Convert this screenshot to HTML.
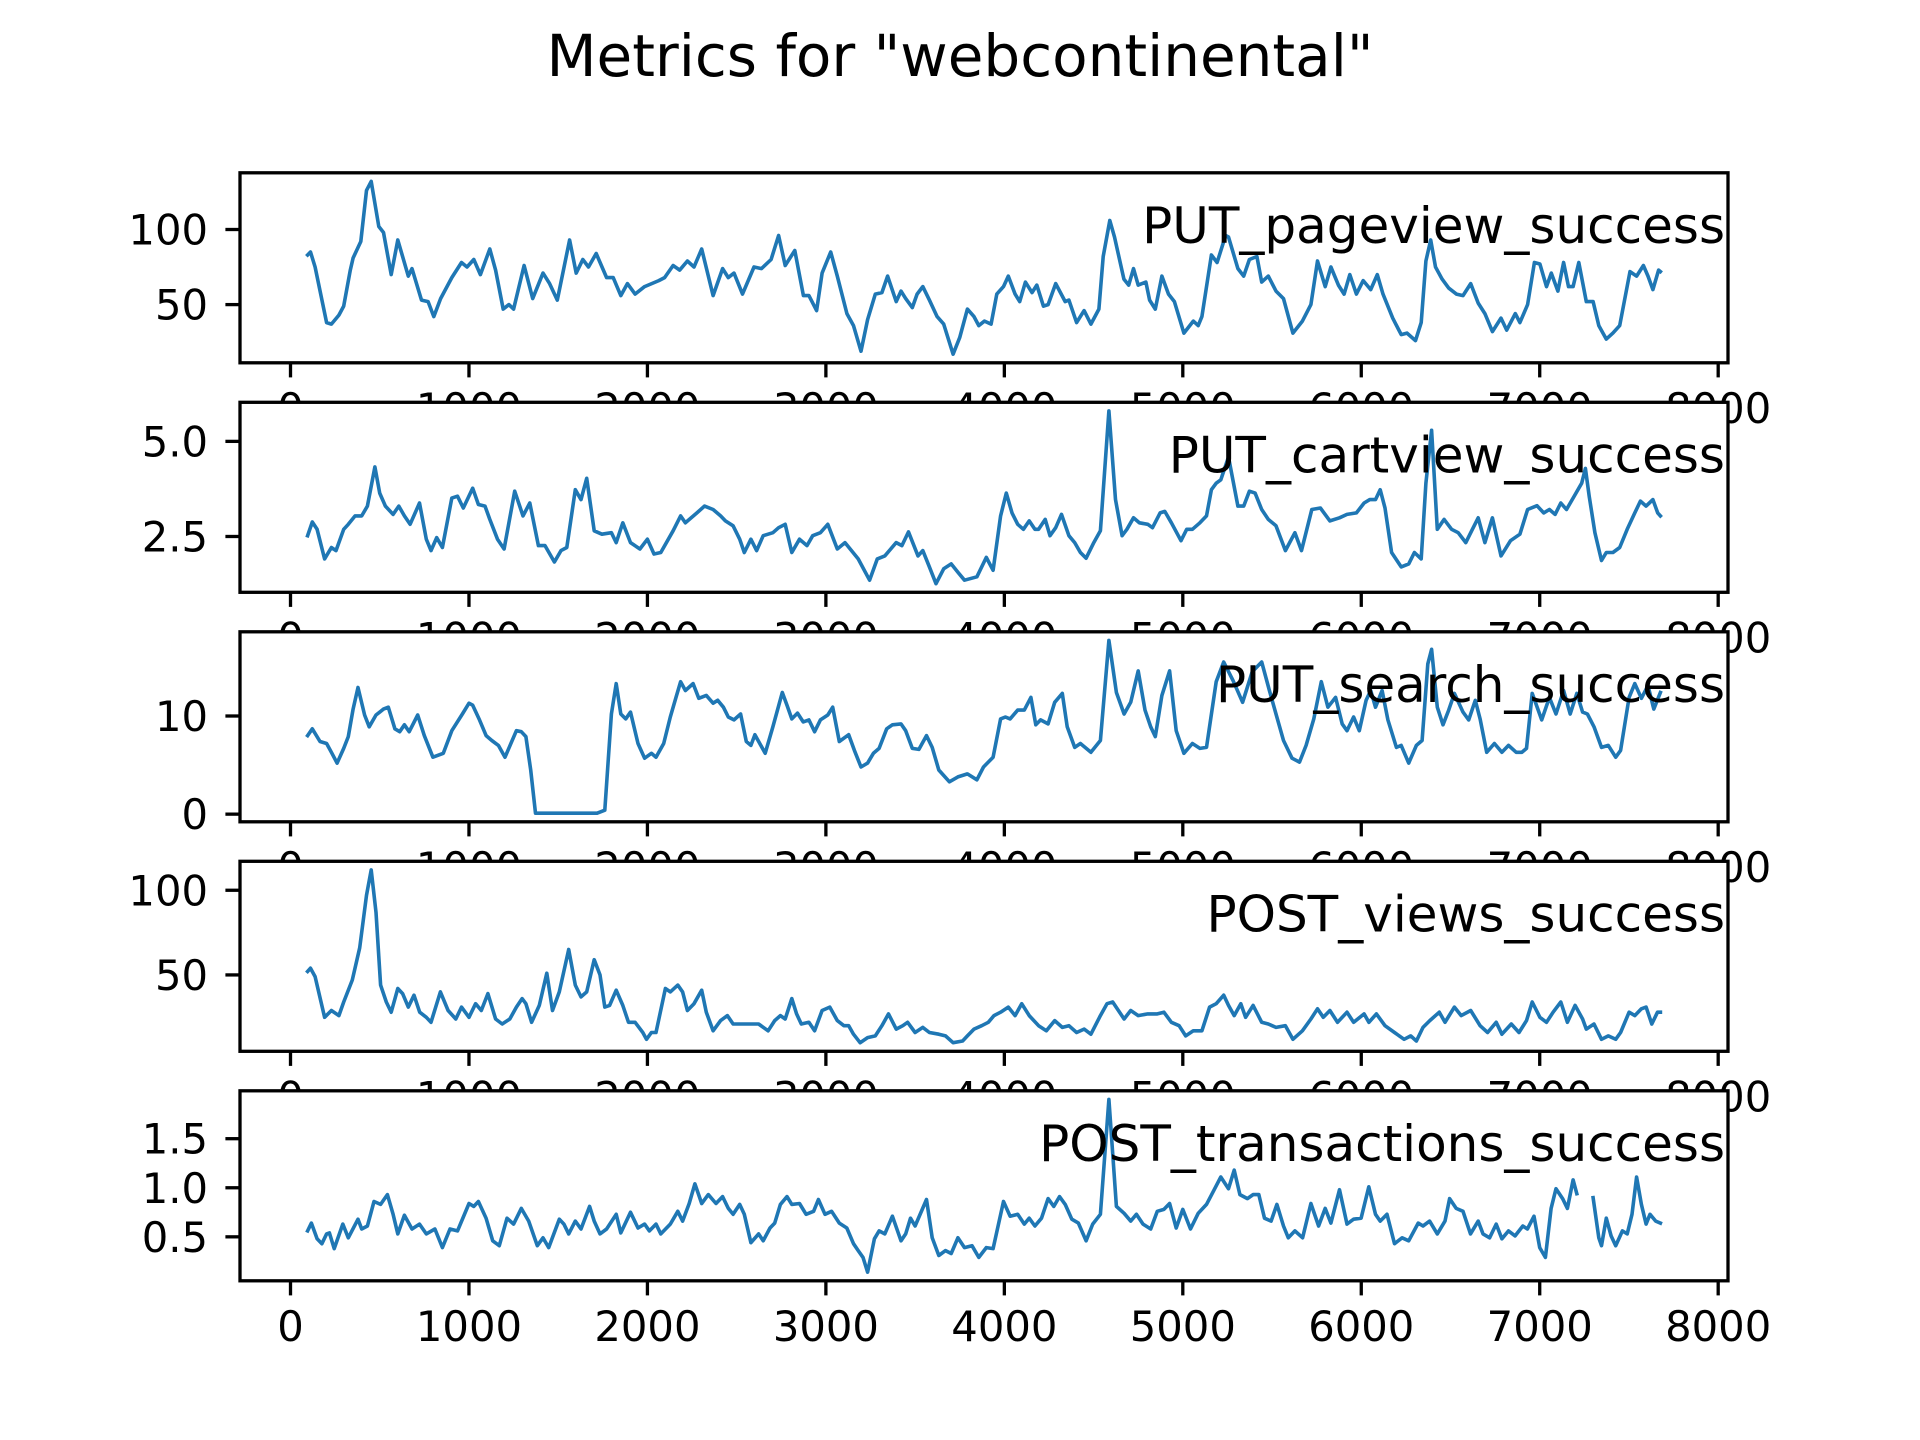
<!DOCTYPE html>
<html>
<head>
<meta charset="utf-8">
<style>
  html, body { margin: 0; padding: 0; background: #ffffff; }
  svg { display: block; }
  text { font-family: "DejaVu Sans", "Liberation Sans", sans-serif; fill: #000; }
</style>
</head>
<body>
<svg id="chart" width="1920" height="1440" viewBox="0 0 1920 1440" xmlns="http://www.w3.org/2000/svg">
  <rect x="0" y="0" width="1920" height="1440" fill="#ffffff"></rect>
  <text x="960" y="76" text-anchor="middle" font-size="58">Metrics for "webcontinental"</text>
</svg>
<script>
// ---------- data ----------
const seriesNames = ["PUT_pageview_success", "PUT_cartview_success", "PUT_search_success", "POST_views_success", "POST_transactions_success"];
const xTickValues = [0, 1000, 2000, 3000, 4000, 5000, 6000, 7000, 8000];
const yTicks1 = [50, 100];
const yTicks2 = [2.5, 5.0];
const yTicks3 = [0, 10];
const yTicks4 = [50, 100];
const yTicks5 = [0.5, 1.0, 1.5];
const yTickLabels1 = ["50", "100"];
const yTickLabels2 = ["2.5", "5.0"];
const yTickLabels3 = ["0", "10"];
const yTickLabels4 = ["50", "100"];
const yTickLabels5 = ["0.5", "1.0", "1.5"];

const x1 = [96,112,138,202,229,271,298,335,351,394,426,452,495,521,564,601,628,660,681,734,771,803,841,904,958,989,1027,1064,1117,1149,1192,1224,1250,1309,1357,1415,1452,1495,1564,1601,1638,1670,1713,1771,1808,1851,1888,1931,1984,2064,2096,2144,2181,2224,2261,2304,2368,2421,2453,2485,2533,2597,2639,2693,2735,2772,2826,2874,2905,2948,2979,3027,3064,3118,3155,3197,3234,3277,3314,3346,3394,3421,3447,3484,3511,3543,3580,3623,3660,3713,3750,3793,3830,3857,3889,3926,3958,3995,4022,4060,4086,4118,4155,4182,4219,4245,4288,4341,4362,4405,4447,4485,4530,4554,4591,4617,4670,4697,4724,4750,4793,4814,4846,4883,4920,4953,5006,5059,5086,5107,5160,5192,5240,5256,5309,5341,5373,5415,5442,5479,5522,5564,5617,5670,5718,5755,5798,5830,5872,5904,5936,5973,6011,6053,6090,6122,6176,6224,6256,6304,6336,6362,6389,6416,6453,6490,6533,6570,6613,6655,6693,6735,6783,6815,6863,6889,6932,6970,7001,7038,7065,7102,7134,7161,7187,7219,7261,7299,7331,7373,7410,7448,7506,7543,7581,7607,7634,7666,7676];
const v1 = [83,85,75,38,37,43,49,73,81,92,126,132,102,98,70,93,82,69,74,53,52,42,54,68,78,75,80,70,87,73,47,50,47,76,54,71,64,53,93,71,80,75,84,68,68,56,64,57,62,66,68,76,73,79,75,87,56,74,68,71,57,75,74,80,96,76,86,56,56,46,71,85,69,44,36,19,40,57,58,69,52,59,54,48,57,62,53,42,37,17,28,47,42,36,39,37,57,62,69,57,52,65,58,63,49,50,64,52,53,38,46,37,47,82,106,95,67,63,74,63,65,53,47,69,57,52,31,39,36,42,83,78,96,95,74,69,80,82,65,69,59,54,31,39,50,79,62,75,63,57,70,57,66,60,70,57,41,30,31,26,38,79,93,75,67,61,57,56,64,51,44,32,41,33,44,38,50,78,77,62,71,59,78,62,62,78,52,52,36,27,31,36,72,69,76,69,60,73,72];

const x2 = [96,122,149,191,229,255,298,324,362,399,431,473,500,532,575,607,638,670,723,761,787,819,851,904,936,968,1021,1053,1090,1117,1160,1197,1256,1303,1341,1389,1426,1479,1516,1548,1596,1628,1660,1702,1745,1798,1825,1862,1905,1958,2000,2037,2075,2144,2186,2213,2277,2320,2368,2410,2437,2480,2517,2543,2580,2612,2649,2703,2735,2772,2809,2852,2894,2926,2969,3011,3064,3107,3181,3245,3288,3330,3394,3426,3463,3516,3543,3580,3617,3660,3702,3740,3777,3846,3899,3937,3979,4011,4043,4075,4107,4139,4171,4192,4229,4256,4288,4320,4362,4394,4426,4458,4501,4538,4586,4623,4660,4687,4724,4756,4804,4830,4873,4899,4936,4990,5022,5054,5096,5133,5160,5187,5213,5256,5309,5341,5373,5405,5442,5479,5522,5575,5628,5665,5723,5771,5824,5878,5920,5973,6016,6048,6080,6106,6133,6170,6224,6266,6298,6336,6362,6394,6426,6464,6506,6543,6586,6623,6655,6693,6735,6783,6836,6889,6932,6985,7022,7054,7086,7118,7150,7198,7235,7256,7277,7309,7346,7373,7410,7448,7490,7533,7564,7596,7634,7661,7676];
const v2 = [2.52,2.88,2.69,1.91,2.21,2.13,2.69,2.82,3.04,3.04,3.30,4.33,3.64,3.30,3.08,3.30,3.04,2.82,3.38,2.43,2.13,2.47,2.21,3.51,3.56,3.25,3.77,3.34,3.30,2.95,2.43,2.17,3.69,3.04,3.38,2.26,2.26,1.83,2.13,2.21,3.73,3.47,4.03,2.65,2.56,2.60,2.34,2.86,2.34,2.17,2.43,2.04,2.08,2.65,3.04,2.86,3.12,3.30,3.21,3.04,2.91,2.78,2.43,2.08,2.43,2.13,2.52,2.60,2.73,2.82,2.08,2.43,2.26,2.52,2.60,2.82,2.17,2.34,1.91,1.35,1.91,1.99,2.34,2.26,2.62,1.99,2.13,1.70,1.26,1.65,1.78,1.56,1.35,1.44,1.95,1.61,3.04,3.64,3.12,2.82,2.69,2.91,2.69,2.69,2.95,2.52,2.73,3.08,2.52,2.34,2.08,1.93,2.34,2.65,5.80,3.47,2.52,2.69,2.99,2.86,2.82,2.73,3.12,3.16,2.86,2.39,2.69,2.69,2.86,3.04,3.73,3.90,3.99,4.59,3.30,3.30,3.69,3.64,3.21,2.95,2.78,2.13,2.60,2.13,3.21,3.25,2.91,2.99,3.08,3.12,3.38,3.47,3.47,3.73,3.25,2.08,1.70,1.78,2.08,1.91,3.90,5.29,2.69,2.95,2.69,2.60,2.34,2.69,2.99,2.34,2.99,1.99,2.39,2.56,3.21,3.31,3.12,3.21,3.08,3.38,3.21,3.60,3.90,4.29,3.56,2.60,1.87,2.08,2.08,2.21,2.69,3.12,3.43,3.30,3.47,3.12,3.04];

const x3 = [96,122,165,202,229,261,298,324,351,378,415,441,479,521,548,585,612,638,665,713,750,798,856,904,963,1000,1021,1059,1096,1128,1165,1202,1266,1293,1319,1346,1373,1426,1718,1761,1798,1825,1851,1878,1905,1947,1984,2022,2048,2091,2128,2160,2186,2213,2256,2288,2330,2368,2394,2426,2453,2485,2522,2554,2580,2602,2660,2703,2756,2782,2809,2841,2873,2905,2937,2969,3011,3038,3075,3128,3160,3197,3234,3266,3298,3341,3373,3421,3447,3484,3521,3564,3596,3633,3692,3740,3793,3846,3883,3937,3979,4006,4032,4075,4112,4149,4176,4203,4245,4282,4325,4352,4394,4426,4485,4538,4586,4628,4671,4708,4750,4788,4820,4846,4883,4926,4963,5006,5054,5096,5133,5187,5229,5282,5335,5389,5442,5485,5522,5564,5612,5654,5691,5734,5776,5813,5856,5893,5920,5957,5989,6027,6053,6080,6117,6149,6197,6224,6266,6309,6341,6373,6394,6426,6458,6490,6522,6570,6602,6639,6666,6703,6746,6788,6825,6868,6900,6926,6958,7011,7054,7091,7134,7171,7208,7240,7267,7304,7346,7384,7426,7453,7501,7533,7570,7607,7639,7676];
const v3 = [8.0,8.7,7.4,7.2,6.3,5.2,6.7,7.9,10.7,12.9,10.1,8.9,10.1,10.7,10.9,8.7,8.4,9.1,8.4,10.1,8.0,5.8,6.2,8.5,10.2,11.3,11.1,9.6,8.0,7.5,7.0,5.8,8.5,8.4,7.9,4.5,0.1,0.1,0.1,0.4,10.2,13.3,10.2,9.7,10.4,7.2,5.7,6.2,5.8,7.2,9.9,11.9,13.5,12.6,13.3,11.8,12.1,11.3,11.6,10.9,9.9,9.6,10.2,7.4,7.0,8.1,6.2,8.9,12.4,11.1,9.7,10.3,9.4,9.6,8.4,9.6,10.1,10.9,7.4,8.1,6.5,4.8,5.2,6.2,6.7,8.7,9.1,9.2,8.5,6.7,6.6,8.0,6.8,4.5,3.3,3.8,4.1,3.5,4.8,5.8,9.7,9.9,9.7,10.6,10.6,11.9,9.1,9.6,9.2,11.4,12.3,8.9,6.8,7.2,6.3,7.5,17.7,12.4,10.2,11.4,14.6,10.6,8.9,7.9,12.1,14.6,8.5,6.2,7.2,6.7,6.8,13.5,15.5,13.6,11.4,14.5,15.5,12.6,10.2,7.5,5.7,5.3,7.0,9.7,13.5,10.9,11.9,9.2,8.5,9.9,8.5,11.6,12.6,10.9,12.6,9.6,6.8,7.0,5.2,7.0,7.5,15.3,16.8,10.9,9.1,10.6,12.3,10.4,9.6,11.6,9.7,6.3,7.2,6.3,7.0,6.3,6.3,6.7,12.3,9.6,11.9,10.2,12.6,10.2,12.3,10.4,10.2,8.9,6.8,7.0,5.8,6.5,11.9,13.3,11.8,13.1,10.7,12.4];

const x4 = [96,112,138,191,229,271,298,346,388,426,452,479,505,537,564,601,628,660,692,724,761,787,840,883,926,958,1000,1037,1069,1106,1149,1186,1229,1266,1298,1319,1351,1394,1436,1468,1506,1559,1596,1628,1660,1702,1734,1761,1788,1825,1862,1894,1931,1974,1995,2022,2048,2101,2128,2170,2197,2224,2261,2304,2330,2368,2410,2448,2480,2527,2570,2623,2676,2713,2745,2772,2809,2836,2862,2905,2937,2979,3022,3064,3101,3128,3155,3192,3234,3277,3314,3351,3394,3431,3458,3500,3543,3580,3633,3670,3713,3766,3793,3830,3873,3910,3942,3979,4022,4060,4097,4139,4192,4235,4282,4325,4362,4405,4447,4485,4538,4575,4607,4639,4671,4708,4750,4804,4857,4894,4936,4979,5016,5059,5107,5150,5187,5229,5256,5288,5325,5352,5394,5442,5479,5522,5575,5617,5670,5718,5755,5787,5824,5867,5920,5957,6016,6043,6085,6133,6186,6240,6277,6309,6346,6384,6437,6469,6522,6560,6613,6666,6708,6756,6788,6841,6884,6926,6958,7001,7038,7075,7118,7155,7198,7240,7261,7304,7346,7384,7426,7453,7501,7533,7570,7596,7628,7660,7676];
const v4 = [52,54,49,25,29,26,34,47,66,97,112,87,44,34,28,42,39,31,38,28,25,22,40,29,24,31,25,33,29,39,24,21,24,31,36,33,22,32,51,29,40,65,44,37,40,59,50,31,32,41,32,22,22,16,12,16,16,42,40,44,40,29,33,41,28,17,23,26,21,21,21,21,17,23,26,24,36,27,21,22,17,29,31,23,20,20,15,10,13,14,20,27,18,20,22,16,19,16,15,14,10,11,14,18,20,22,26,28,31,26,33,26,20,17,23,19,20,16,18,15,26,33,34,29,24,29,26,27,27,28,22,20,14,17,17,31,33,38,32,26,33,25,32,22,21,19,20,12,17,24,30,25,29,22,28,22,27,22,27,20,16,12,14,11,19,23,28,22,31,26,29,20,16,22,15,21,16,23,34,25,22,28,34,22,32,24,18,21,12,14,12,16,28,26,30,31,21,28,28];

const x5 = [96,117,149,176,202,218,245,293,324,378,399,431,468,505,543,575,601,638,681,723,761,809,851,894,936,1000,1027,1053,1096,1133,1170,1213,1250,1293,1335,1383,1415,1447,1506,1532,1559,1596,1628,1676,1702,1734,1771,1825,1851,1905,1947,1984,2011,2048,2075,2128,2170,2197,2234,2266,2304,2341,2384,2421,2453,2480,2517,2543,2580,2623,2649,2687,2713,2745,2782,2809,2852,2889,2931,2958,2995,3032,3075,3117,3155,3181,3208,3234,3272,3298,3330,3373,3421,3447,3474,3500,3564,3596,3633,3670,3702,3740,3777,3819,3857,3899,3937,3995,4032,4075,4112,4139,4171,4208,4245,4277,4309,4341,4378,4415,4458,4495,4538,4586,4628,4671,4708,4740,4777,4820,4857,4894,4926,4963,5000,5043,5086,5133,5176,5213,5256,5288,5320,5362,5394,5426,5458,5495,5527,5564,5591,5628,5671,5718,5761,5798,5830,5878,5920,5957,5999,6042,6080,6106,6144,6186,6229,6266,6319,6346,6383,6426,6469,6495,6532,6570,6612,6655,6682,6719,6756,6788,6825,6862,6905,6931,6968,7000,7032,7064,7091,7128,7155,7187,7208,7250,7299,7331,7346,7373,7400,7426,7463,7490,7517,7543,7570,7596,7618,7650,7676];
const v5 = [0.56,0.64,0.48,0.43,0.53,0.54,0.38,0.63,0.49,0.68,0.58,0.61,0.86,0.83,0.93,0.73,0.53,0.72,0.58,0.63,0.53,0.58,0.39,0.58,0.56,0.84,0.81,0.86,0.69,0.46,0.41,0.69,0.63,0.79,0.66,0.41,0.49,0.39,0.68,0.63,0.53,0.66,0.58,0.81,0.66,0.53,0.58,0.73,0.54,0.75,0.59,0.63,0.56,0.63,0.53,0.63,0.76,0.66,0.84,1.04,0.84,0.93,0.84,0.91,0.79,0.73,0.83,0.73,0.44,0.53,0.46,0.59,0.64,0.83,0.91,0.83,0.84,0.73,0.76,0.88,0.73,0.76,0.64,0.59,0.43,0.36,0.29,0.14,0.48,0.56,0.53,0.71,0.46,0.53,0.69,0.61,0.88,0.49,0.31,0.36,0.33,0.49,0.39,0.41,0.29,0.39,0.38,0.86,0.71,0.73,0.63,0.69,0.61,0.69,0.89,0.81,0.91,0.83,0.68,0.64,0.46,0.63,0.73,1.90,0.81,0.74,0.66,0.73,0.63,0.58,0.76,0.78,0.84,0.59,0.78,0.58,0.74,0.83,0.98,1.11,0.99,1.18,0.93,0.89,0.93,0.93,0.69,0.66,0.83,0.61,0.49,0.56,0.49,0.84,0.61,0.79,0.64,0.98,0.63,0.68,0.69,1.01,0.73,0.66,0.73,0.43,0.49,0.46,0.64,0.61,0.66,0.53,0.66,0.89,0.79,0.76,0.53,0.66,0.53,0.49,0.63,0.48,0.56,0.51,0.61,0.58,0.71,0.39,0.29,0.79,0.99,0.89,0.79,1.08,0.94,null,0.90,0.49,0.41,0.69,0.51,0.41,0.56,0.53,0.73,1.11,0.83,0.63,0.73,0.66,0.64];

// ---------- layout ----------
const NS = "http://www.w3.org/2000/svg";
const svg = document.getElementById("chart");
const axLeft = 240, axRight = 1728, axH = 190;
const axTops = [172.8, 402.3, 631.8, 861.3, 1090.8];
const xMin = -283, xMax = 8055;
function xScale(x) { return axLeft + (x - xMin) / (xMax - xMin) * (axRight - axLeft); }

const allX = [x1, x2, x3, x4, x5];
const allV = [v1, v2, v3, v4, v5];
const allTicks = [yTicks1, yTicks2, yTicks3, yTicks4, yTicks5];
const allTickLabels = [yTickLabels1, yTickLabels2, yTickLabels3, yTickLabels4, yTickLabels5];
const panelNames = ["pageview", "cartview", "search", "views", "transactions"];

function mk(tag, attrs) {
  const el = document.createElementNS(NS, tag);
  for (const k in attrs) el.setAttribute(k, attrs[k]);
  return el;
}

for (let p = 0; p < 5; p++) {
  const top = axTops[p], bottom = top + axH;
  const xs = allX[p], vs = allV[p];
  const valid = vs.filter(v => v !== null);
  const dmin = Math.min(...valid), dmax = Math.max(...valid);
  const pad = (dmax - dmin) * 0.05;
  const yMin = dmin - pad, yMax = dmax + pad;
  const yScale = v => top + (yMax - v) / (yMax - yMin) * axH;

  const g = mk("g", {});
  
  
  svg.appendChild(g);

  const bg = mk("rect", { x: axLeft, y: top, width: axRight - axLeft, height: axH, fill: "#ffffff" });
  
  
  g.appendChild(bg);

  let d = "", pen = false;
  for (let i = 0; i < xs.length; i++) {
    if (vs[i] === null) { pen = false; continue; }
    const px = xScale(xs[i]).toFixed(1), py = yScale(vs[i]).toFixed(1);
    d += (pen ? "L" : "M") + px + " " + py + " ";
    pen = true;
  }
  const line = mk("path", { d: d, fill: "none", stroke: "#1f77b4", "stroke-width": 3.6, "stroke-linejoin": "round", "stroke-linecap": "square" });
  
  
  g.appendChild(line);

  const lab = mk("text", { x: 1725, y: top + 70, "text-anchor": "end", "font-size": 50 });
  lab.textContent = seriesNames[p];
  
  
  g.appendChild(lab);

  const frame = mk("rect", { x: axLeft, y: top, width: axRight - axLeft, height: axH, fill: "none", stroke: "#000", "stroke-width": 3.3 });
  
  
  g.appendChild(frame);

  const yt = allTicks[p], ytl = allTickLabels[p];
  for (let i = 0; i < yt.length; i++) {
    const ty = yScale(yt[i]);
    const tk = mk("line", { x1: axLeft - 14.6, x2: axLeft, y1: ty, y2: ty, stroke: "#000", "stroke-width": 3.3 });
    
    
    g.appendChild(tk);
    const tl = mk("text", { x: 208, y: ty + 15, "text-anchor": "end", "font-size": 41.7 });
    tl.textContent = ytl[i];
    
    
    g.appendChild(tl);
  }

  for (let i = 0; i < xTickValues.length; i++) {
    const tx = xScale(xTickValues[i]);
    const tk = mk("line", { x1: tx, x2: tx, y1: bottom, y2: bottom + 14.6, stroke: "#000", "stroke-width": 3.3 });
    
    
    g.appendChild(tk);
    const tl = mk("text", { x: tx, y: bottom + 60, "text-anchor": "middle", "font-size": 41.7 });
    tl.textContent = String(xTickValues[i]);
    
    
    g.appendChild(tl);
  }
}
</script>
</body>
</html>
